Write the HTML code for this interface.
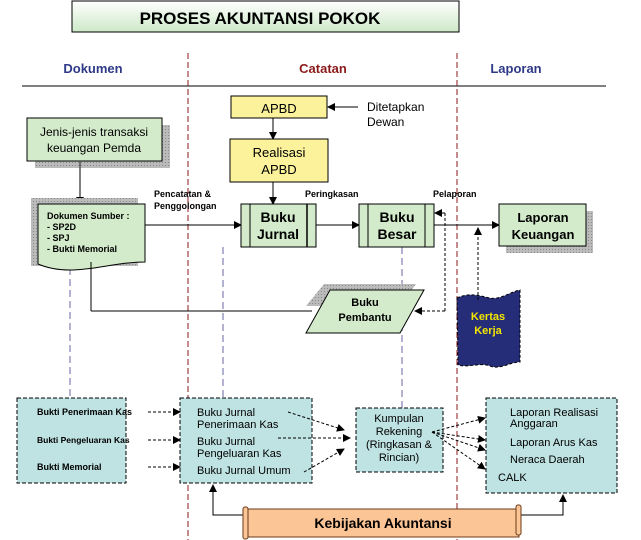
<!DOCTYPE html>
<html><head><meta charset="utf-8"><style>
html,body{margin:0;padding:0;background:#fff;width:641px;height:540px;overflow:hidden}
text{font-family:"Liberation Sans",Arial,sans-serif;font-weight:bold}
</style></head><body>
<svg width="641" height="540" viewBox="0 0 641 540" xmlns="http://www.w3.org/2000/svg">
<defs>
<linearGradient id="tg" x1="0" y1="0" x2="0" y2="1"><stop offset="0" stop-color="#ffffff"/><stop offset="1" stop-color="#cde9c8"/></linearGradient>
<marker id="a" markerWidth="8" markerHeight="8" refX="7" refY="4" orient="auto" markerUnits="userSpaceOnUse"><path d="M0,0 L8,4 L0,8 z" fill="#000"/></marker>
<pattern id="sh" width="3" height="3" patternUnits="userSpaceOnUse"><rect width="3" height="3" fill="#bbb"/><rect width="1" height="1" fill="#888"/></pattern>
</defs>
<rect x="72" y="1" width="387" height="31" fill="url(#tg)" stroke="#000" stroke-width="1"/>
<text x="260" y="24" text-anchor="middle" font-size="17" fill="#000">PROSES AKUNTANSI POKOK</text>
<text x="93" y="73" text-anchor="middle" font-size="13" fill="#2e3a87">Dokumen</text>
<text x="323" y="73" text-anchor="middle" font-size="13" fill="#8a1a1a">Catatan</text>
<text x="516" y="73" text-anchor="middle" font-size="13" fill="#2e3a87">Laporan</text>
<line x1="22" y1="86" x2="606" y2="86" stroke="#000" stroke-width="1"/>
<line x1="188" y1="53" x2="188" y2="540" stroke="#8a1a1a" stroke-dasharray="6,3"/>
<line x1="457" y1="53" x2="457" y2="540" stroke="#8a1a1a" stroke-dasharray="6,3"/>
<g stroke="#8a8ab8" stroke-dasharray="7,4" stroke-width="1.3">
<line x1="70" y1="268" x2="70" y2="398"/>
<line x1="223" y1="247" x2="223" y2="398"/>
<line x1="402" y1="247" x2="402" y2="408"/>
</g>
<rect x="231" y="96" width="96" height="22" fill="#fbf29b" stroke="#000"/>
<text x="279" y="113" text-anchor="middle" font-size="13" style="font-weight:normal">APBD</text>
<line x1="358" y1="107" x2="328" y2="107" stroke="#000" marker-end="url(#a)"/>
<text x="367" y="111" font-size="12" style="font-weight:normal">Ditetapkan</text>
<text x="367" y="126" font-size="12" style="font-weight:normal">Dewan</text>
<line x1="273" y1="118" x2="273" y2="139" stroke="#000" marker-end="url(#a)"/>
<rect x="230" y="139" width="98" height="43" fill="#fbf29b" stroke="#000"/>
<text x="279" y="157" text-anchor="middle" font-size="13" style="font-weight:normal">Realisasi</text>
<text x="279" y="174" text-anchor="middle" font-size="13" style="font-weight:normal">APBD</text>
<line x1="273" y1="182" x2="273" y2="204" stroke="#000" marker-end="url(#a)"/>
<rect x="35" y="125" width="135" height="43" fill="url(#sh)"/>
<rect x="27" y="118" width="135" height="43" fill="#d3ebcb" stroke="#000"/>
<text x="94" y="136" text-anchor="middle" font-size="12" style="font-weight:normal">Jenis-jenis transaksi</text>
<text x="94" y="152" text-anchor="middle" font-size="12" style="font-weight:normal">keuangan Pemda</text>
<line x1="80" y1="161" x2="80" y2="204" stroke="#555" stroke-width="1.5" marker-end="url(#a)"/>
<rect x="31" y="198" width="107" height="68" fill="url(#sh)"/>
<path d="M38,204 H145 V262 C118,262 95,270 70,270 C55,270 45,267 38,264 Z" fill="#d3ebcb" stroke="#000"/>
<text x="47" y="219" font-size="9">Dokumen Sumber :</text>
<text x="47" y="230" font-size="9">- SP2D</text>
<text x="47" y="241" font-size="9">- SPJ</text>
<text x="47" y="252" font-size="9">- Bukti Memorial</text>
<line x1="145" y1="225" x2="241" y2="225" stroke="#000" marker-end="url(#a)"/>
<text x="154" y="197" font-size="9">Pencatatan &amp;</text>
<text x="154" y="209" font-size="9">Penggolongan</text>
<rect x="241" y="204" width="75" height="43" fill="#d3ebcb" stroke="#000"/>
<line x1="250" y1="204" x2="250" y2="247" stroke="#000"/>
<line x1="307" y1="204" x2="307" y2="247" stroke="#000" stroke-width="1.5"/>
<text x="278" y="222" text-anchor="middle" font-size="14">Buku</text>
<text x="278" y="239" text-anchor="middle" font-size="14">Jurnal</text>
<line x1="316" y1="225" x2="359" y2="225" stroke="#000" marker-end="url(#a)"/>
<text x="305" y="197" font-size="9">Peringkasan</text>
<rect x="359" y="204" width="75" height="43" fill="#d3ebcb" stroke="#000"/>
<line x1="368" y1="204" x2="368" y2="247" stroke="#000"/>
<line x1="425" y1="204" x2="425" y2="247" stroke="#000"/>
<text x="397" y="222" text-anchor="middle" font-size="14">Buku</text>
<text x="397" y="239" text-anchor="middle" font-size="14">Besar</text>
<text x="433" y="197" font-size="9">Pelaporan</text>
<line x1="434" y1="225" x2="499" y2="225" stroke="#000" marker-end="url(#a)"/>
<rect x="506" y="211" width="87" height="42" fill="url(#sh)"/>
<rect x="499" y="204" width="87" height="42" fill="#d3ebcb" stroke="#000"/>
<text x="543" y="222" text-anchor="middle" font-size="13">Laporan</text>
<text x="543" y="239" text-anchor="middle" font-size="13">Keuangan</text>
<path d="M457,298 C470,292 480,296 490,298 C500,300 510,292 520,290 V362 C510,362 500,370 490,366 C480,362 470,368 458,365 Z" fill="#262d78" stroke="#000" stroke-dasharray="3,2"/>
<text x="488" y="320" text-anchor="middle" font-size="11" fill="#f5e600">Kertas</text>
<text x="488" y="334" text-anchor="middle" font-size="11" fill="#f5e600">Kerja</text>
<line x1="478" y1="300" x2="478" y2="228" stroke="#000" stroke-dasharray="3,2" marker-end="url(#a)"/>
<line x1="91" y1="262" x2="91" y2="311" stroke="#000"/>
<line x1="91" y1="311" x2="312" y2="311" stroke="#000"/>
<path d="M324,284 H416 L400,306 H306 Z" fill="url(#sh)"/>
<path d="M330,290 H424 L400,333 H306 Z" fill="#d3ebcb" stroke="#000"/>
<text x="365" y="306" text-anchor="middle" font-size="11">Buku</text>
<text x="365" y="321" text-anchor="middle" font-size="11">Pembantu</text>
<path d="M445,311 V213" fill="none" stroke="#000" stroke-dasharray="3,2"/>
<line x1="445" y1="213" x2="435" y2="213" stroke="#000" marker-end="url(#a)"/>
<line x1="445" y1="311" x2="415" y2="311" stroke="#000" stroke-dasharray="3,2" marker-end="url(#a)"/>
<g fill="#bfe2e2" stroke="#000" stroke-dasharray="4,2">
<rect x="17" y="398" width="109" height="85"/>
<rect x="180" y="398" width="132" height="85"/>
<rect x="356" y="408" width="87" height="64"/>
<rect x="486" y="398" width="131" height="95"/>
</g>
<text x="37" y="415" font-size="9">Bukti Penerimaan Kas</text>
<text x="37" y="443" font-size="8.5">Bukti Pengeluaran Kas</text>
<text x="37" y="470" font-size="9">Bukti Memorial</text>
<g font-size="11">
<text x="197" y="416" style="font-weight:normal">Buku Jurnal</text>
<text x="197" y="428" style="font-weight:normal">Penerimaan Kas</text>
<text x="197" y="445" style="font-weight:normal">Buku Jurnal</text>
<text x="197" y="457" style="font-weight:normal">Pengeluaran Kas</text>
<text x="197" y="474" style="font-weight:normal">Buku Jurnal Umum</text>
<text x="399" y="422" text-anchor="middle" style="font-weight:normal">Kumpulan</text>
<text x="399" y="435" text-anchor="middle" style="font-weight:normal">Rekening</text>
<text x="399" y="448" text-anchor="middle" style="font-weight:normal">(Ringkasan &amp;</text>
<text x="399" y="461" text-anchor="middle" style="font-weight:normal">Rincian)</text>
<text x="510" y="416" style="font-weight:normal">Laporan Realisasi</text>
<text x="510" y="427" style="font-weight:normal">Anggaran</text>
<text x="510" y="446" style="font-weight:normal">Laporan Arus Kas</text>
<text x="510" y="463" style="font-weight:normal">Neraca Daerah</text>
<text x="498" y="481" style="font-weight:normal">CALK</text>
</g>
<g stroke="#000" stroke-dasharray="3,2" fill="none">
<line x1="148" y1="412" x2="180" y2="412" marker-end="url(#a)"/>
<line x1="148" y1="440" x2="180" y2="440" marker-end="url(#a)"/>
<line x1="148" y1="467" x2="180" y2="467" marker-end="url(#a)"/>
<line x1="288" y1="412" x2="344" y2="430" marker-end="url(#a)"/>
<line x1="278" y1="438" x2="350" y2="438" marker-end="url(#a)"/>
<line x1="304" y1="472" x2="344" y2="449" marker-end="url(#a)"/>
<line x1="432" y1="432" x2="485" y2="418" marker-end="url(#a)"/>
<line x1="432" y1="432" x2="485" y2="440" marker-end="url(#a)"/>
<line x1="432" y1="432" x2="485" y2="450" marker-end="url(#a)"/>
<line x1="432" y1="432" x2="485" y2="469" marker-end="url(#a)"/>
</g>
<path d="M245,515 H213 V485" fill="none" stroke="#000" marker-end="url(#a)"/>
<path d="M518,515 H563 V495" fill="none" stroke="#000" marker-end="url(#a)"/>
<rect x="246" y="509" width="273" height="28" fill="#fcc596" stroke="#6b3a1a"/>
<rect x="243" y="507" width="5" height="32" rx="2" fill="#fcc596" stroke="#6b3a1a"/>
<rect x="516" y="505" width="5" height="30" rx="2" fill="#fcc596" stroke="#6b3a1a"/>
<text x="383" y="528" text-anchor="middle" font-size="14">Kebijakan Akuntansi</text>
</svg>
</body></html>
